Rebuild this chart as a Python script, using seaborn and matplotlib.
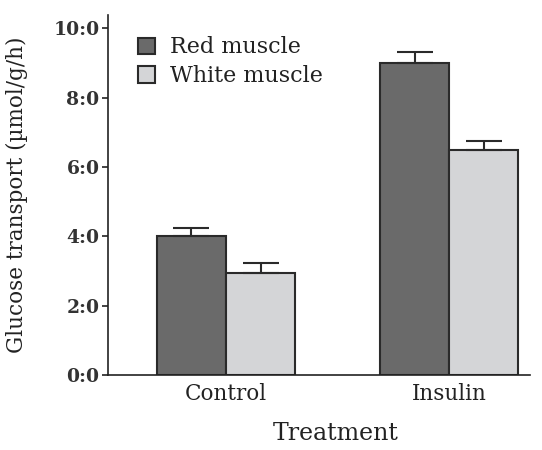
import matplotlib
matplotlib.use("Agg")
import matplotlib.pyplot as plt
import seaborn as sns
import pandas as pd
import numpy as np

categories = ["Control", "Insulin"]
series = ["Red muscle", "White muscle"]
red_values = [4.0, 9.0]
white_values = [2.95, 6.48]
red_err = [0.25, 0.30]
white_err = [0.27, 0.27]
yticks = [0, 2, 4, 6, 8, 10]
ytick_labels = ["0:0", "2:0", "4:0", "6:0", "8:0", "10:0"]

df = pd.DataFrame({
    "Treatment": categories * 2,
    "Muscle": [series[0]] * 2 + [series[1]] * 2,
    "Value": red_values + white_values,
})

sns.set_style("ticks")
plt.rcParams["font.family"] = ["DejaVu Serif", "Liberation Serif"]

fig = plt.figure(figsize=(5.42, 4.5), dpi=100)
ax = fig.add_axes([0.199, 0.1667, 0.779, 0.80])

sns.barplot(data=df, x="Treatment", y="Value", hue="Muscle", order=categories,
            hue_order=series, palette=["#6a6a6a", "#d4d5d7"], width=0.62,
            edgecolor="#2a2a2a", linewidth=1.5, errorbar=None, ax=ax)

errs = red_err + white_err
vals = red_values + white_values
for patch, v, e in zip(ax.patches[:4], vals, errs):
    cx = patch.get_x() + patch.get_width() / 2
    ax.errorbar([cx], [v], yerr=[[0], [e]], fmt="none", ecolor="#2a2a2a",
                elinewidth=1.5, capsize=13, capthick=1.5, zorder=1)

ax.set_ylim(0, 10.38)
ax.set_xlim(-0.53, 1.363)
ax.set_yticks(yticks)
ax.set_yticklabels(ytick_labels, fontsize=13.5, fontweight="bold", color="#333333")
ax.tick_params(axis="y", length=4, width=1.2, color="#222222", pad=2)
ax.tick_params(axis="x", length=0, labelsize=15.5, pad=6)
for lbl in ax.get_xticklabels():
    lbl.set_color("#222222")
ax.set_xlabel("Treatment", fontsize=17, color="#222222")
ax.xaxis.set_label_coords(0.54, -0.131)
ax.set_ylabel("Glucose transport (µmol/g/h)", fontsize=15.5, color="#222222")
ax.yaxis.set_label_coords(-0.19, 0.5)
for s in ["top", "right"]:
    ax.spines[s].set_visible(False)
for s in ["left", "bottom"]:
    ax.spines[s].set_linewidth(1.2)
    ax.spines[s].set_color("#222222")

leg = ax.legend(loc="upper left", bbox_to_anchor=(0.05, 0.965), frameon=False,
                fontsize=16, handlelength=0.75, handleheight=0.75, handletextpad=0.7,
                labelspacing=0.3, borderaxespad=0)
for t in leg.get_texts():
    t.set_color("#222222")

fig.savefig("out.png", dpi=100)
